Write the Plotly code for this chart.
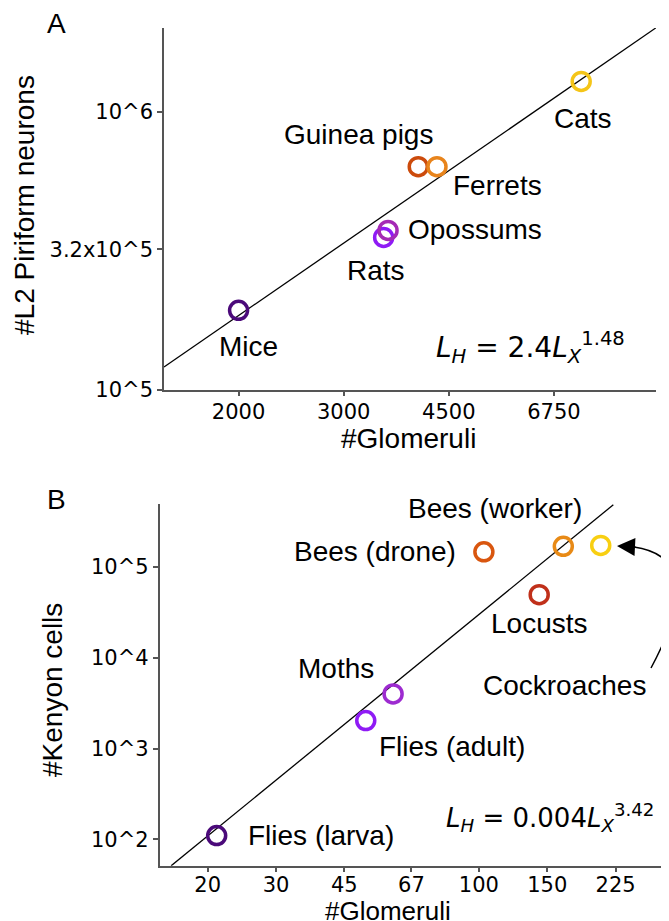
import math
import plotly.graph_objects as go

# ---------------- data ----------------
# Panel A: mammals
mammals = ["Mice", "Rats", "Opossums", "Guinea pigs", "Ferrets", "Cats"]
mammal_glomeruli = [2000, 3500, 3560, 4000, 4300, 7500]
mammal_l2_neurons = [193000, 353000, 374000, 634000, 634000, 1285000]
fit_a_x = [1500, 10000]
fit_a_y = [120700, 2000000]
a_xticks = [2000, 3000, 4500, 6750]
a_xticktext = ["2000", "3000", "4500", "6750"]
a_yticks = [1e5, 3.2e5, 1e6]
a_yticktext = ["10^5", "3.2x10^5", "10^6"]

# Panel B: insects
insects = ["Flies (larva)", "Flies (adult)", "Moths", "Bees (drone)", "Locusts",
           "Bees (worker)", "Cockroaches"]
insect_glomeruli = [21.1, 51.1, 60.1, 103, 143, 165, 206]
insect_kenyon = [110, 2030, 4000, 147000, 49500, 169000, 173000]
fit_b_x = [16.1, 222]
fit_b_y = [51, 485000]
b_xticks = [20, 30, 45, 67, 100, 150, 225]
b_xticktext = ["20", "30", "45", "67", "100", "150", "225"]
b_yticks = [1e2, 1e3, 1e4, 1e5]
b_yticktext = ["10^2", "10^3", "10^4", "10^5"]

# ---------------- style ----------------
W, H = 669, 921
mammal_colors = ["#4b0a7a", "#8f1bf5", "#a52ab5", "#cc4b0c", "#e8841c", "#f5c518"]
insect_colors = ["#4b0a7a", "#8f1bf5", "#9d2bd0", "#d9560f", "#c0301a", "#e88a16", "#f8cf12"]
# label placement: (xshift, yshift, xanchor) in px relative to the point
a_label_pos = [(10, -36, "center"), (-8, -33, "center"), (87, 1, "center"),
               (-60, 32, "center"), (61, -19, "center"), (2, -37, "center")]
b_label_pos = [(29, 0, "left"), (86, -26, "center"), (-57, 25, "center"),
               (-26, 0, "right"), (0, -29, "center"), (-68, 38, "center"),
               (-36, -140, "center")]

LABEL_FONT = dict(family="Liberation Sans, Arial", size=28, color="black")
XTITLE_FONT_B = dict(family="Liberation Sans, Arial", size=26, color="black")
EQ_FONT = dict(family="DejaVu Sans", size=28, color="black")
EQ_FONT_B = dict(family="DejaVu Sans", size=26, color="black")
TICK_FONT = dict(family="DejaVu Sans", size=21, color="black")
AXC = "#555555"


def px(x):
    return x / W


def py(y):
    return 1 - y / H


fig = go.Figure()

# fit lines
fig.add_trace(go.Scatter(x=fit_a_x, y=fit_a_y, mode="lines",
                         line=dict(color="black", width=1.3),
                         xaxis="x", yaxis="y", showlegend=False, hoverinfo="skip"))
fig.add_trace(go.Scatter(x=fit_b_x, y=fit_b_y, mode="lines",
                         line=dict(color="black", width=1.3),
                         xaxis="x2", yaxis="y2", showlegend=False, hoverinfo="skip"))

# markers
fig.add_trace(go.Scatter(x=mammal_glomeruli, y=mammal_l2_neurons, mode="markers",
                         marker=dict(symbol="circle-open", size=18,
                                     color=mammal_colors,
                                     line=dict(width=3.5, color=mammal_colors)),
                         xaxis="x", yaxis="y", showlegend=False, text=mammals))
fig.add_trace(go.Scatter(x=insect_glomeruli, y=insect_kenyon, mode="markers",
                         marker=dict(symbol="circle-open", size=18,
                                     color=insect_colors,
                                     line=dict(width=3.5, color=insect_colors)),
                         xaxis="x2", yaxis="y2", showlegend=False, text=insects))

annotations = []
for name, gx, gy, (dx, dy, xa) in zip(mammals, mammal_glomeruli, mammal_l2_neurons, a_label_pos):
    annotations.append(dict(x=math.log10(gx), y=math.log10(gy), xref="x", yref="y",
                            text=name, showarrow=False, xshift=dx, yshift=dy,
                            xanchor=xa, yanchor="middle", font=LABEL_FONT))
for name, gx, gy, (dx, dy, xa) in zip(insects, insect_glomeruli, insect_kenyon, b_label_pos):
    annotations.append(dict(x=math.log10(gx), y=math.log10(gy), xref="x2", yref="y2",
                            text=name, showarrow=False, xshift=dx, yshift=dy,
                            xanchor=xa, yanchor="middle", font=LABEL_FONT))

# equations
annotations.append(dict(x=px(426), y=py(340), xref="paper", yref="paper",
                        text="<i>L</i><sub><i>H</i></sub> = 2.4<i>L</i><sub><i>X</i></sub><sup>1.48</sup>",
                        showarrow=False, xanchor="left", yanchor="middle", font=EQ_FONT))
annotations.append(dict(x=px(436), y=py(809), xref="paper", yref="paper",
                        text="<i>L</i><sub><i>H</i></sub> = 0.004<i>L</i><sub><i>X</i></sub><sup>3.42</sup>",
                        showarrow=False, xanchor="left", yanchor="middle", font=EQ_FONT_B))

# panel letters
annotations.append(dict(x=px(48), y=py(15), xref="paper", yref="paper", text="A",
                        showarrow=False, xanchor="center", yanchor="middle", font=LABEL_FONT))
annotations.append(dict(x=px(48), y=py(491), xref="paper", yref="paper", text="B",
                        showarrow=False, xanchor="center", yanchor="middle", font=LABEL_FONT))

# axis titles
annotations.append(dict(x=px(400), y=py(430), xref="paper", yref="paper", text="#Glomeruli",
                        showarrow=False, xanchor="center", yanchor="middle", font=LABEL_FONT))
annotations.append(dict(x=px(380), y=py(903), xref="paper", yref="paper", text="#Glomeruli",
                        showarrow=False, xanchor="center", yanchor="middle", font=XTITLE_FONT_B))
annotations.append(dict(x=px(17), y=py(197), xref="paper", yref="paper",
                        text="#L2 Piriform neurons", textangle=-90,
                        showarrow=False, xanchor="center", yanchor="middle", font=LABEL_FONT))
annotations.append(dict(x=px(44), y=py(682), xref="paper", yref="paper",
                        text="#Kenyon cells", textangle=-90,
                        showarrow=False, xanchor="center", yanchor="middle", font=LABEL_FONT))

# arrow head pointing to Cockroaches
annotations.append(dict(x=px(609), y=py(538), xref="paper", yref="paper", text="",
                        showarrow=True, arrowhead=2, arrowsize=2.4, arrowwidth=1.5,
                        arrowcolor="black", ax=20, ay=1, axref="pixel", ayref="pixel"))

shapes = [dict(type="path", xref="paper", yref="paper",
               path="M {},{} Q {},{} {},{}".format(px(643), py(660), px(702), py(550),
                                                 px(626), py(539)),
               line=dict(color="black", width=1.5))]


def axis_common():
    return dict(type="log", showline=True, linecolor=AXC, linewidth=1.5,
                ticks="outside", ticklen=5, tickwidth=1.5, tickcolor=AXC,
                showgrid=False, zeroline=False, tickfont=TICK_FONT,
                automargin=False, fixedrange=True)


fig.update_layout(
    width=W, height=H,
    margin=dict(l=0, r=0, t=0, b=0),
    paper_bgcolor="white", plot_bgcolor="white",
    showlegend=False,
    xaxis=dict(axis_common(), domain=[px(156), px(648)],
               range=[math.log10(1500), 4.0004], anchor="y",
               tickvals=a_xticks, ticktext=a_xticktext, ticklabelstandoff=-3),
    yaxis=dict(axis_common(), domain=[py(381.7), py(20)],
               range=[5, 6.301], anchor="x",
               tickvals=a_yticks, ticktext=a_yticktext),
    xaxis2=dict(axis_common(), domain=[px(151.6), px(655.6)],
                range=[1.1772, 2.4759], anchor="y2",
                tickvals=b_xticks, ticktext=b_xticktext, ticklabelstandoff=-6),
    yaxis2=dict(axis_common(), domain=[py(857.7), py(496)],
                range=[1.709, 5.694], anchor="x2",
                tickvals=b_yticks, ticktext=b_yticktext),
    annotations=annotations,
    shapes=shapes,
)

fig.write_html("out.html")
